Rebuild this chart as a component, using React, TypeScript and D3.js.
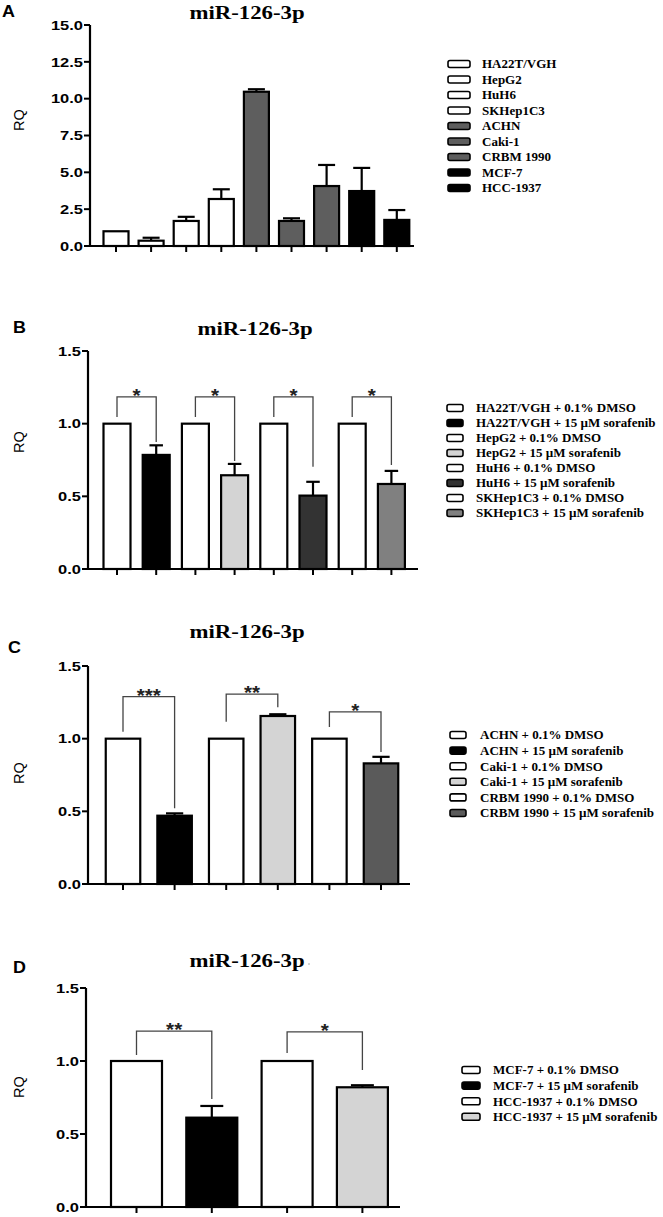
import React from "react";
import * as d3 from "d3";

const W = 663;
const H = 1217;

// ---------------- DATA ----------------
const yTicksA = [0, 2.5, 5, 7.5, 10, 12.5, 15];
const yTicksBCD = [0, 0.5, 1.0, 1.5];

const aCategories = ["HA22T/VGH", "HepG2", "HuH6", "SKHep1C3", "ACHN", "Caki-1", "CRBM 1990", "MCF-7", "HCC-1937"];
const aValues = [1.0, 0.36, 1.7, 3.19, 10.47, 1.7, 4.07, 3.73, 1.77];
const aErrors = [0, 0.2, 0.28, 0.66, 0.17, 0.18, 1.43, 1.57, 0.67];
const aColors = ["#ffffff", "#ffffff", "#ffffff", "#ffffff", "#5e5e5e", "#5e5e5e", "#5e5e5e", "#000000", "#000000"];

const bCategories = [
  "HA22T/VGH + 0.1% DMSO",
  "HA22T/VGH + 15 µM sorafenib",
  "HepG2 + 0.1% DMSO",
  "HepG2 + 15 µM sorafenib",
  "HuH6 + 0.1% DMSO",
  "HuH6 + 15 µM sorafenib",
  "SKHep1C3 + 0.1% DMSO",
  "SKHep1C3 + 15 µM sorafenib",
];
const bValues = [1.0, 0.785, 1.0, 0.645, 1.0, 0.505, 1.0, 0.585];
const bErrors = [0, 0.066, 0, 0.078, 0, 0.095, 0, 0.09];
const bColors = ["#ffffff", "#000000", "#ffffff", "#d4d4d4", "#ffffff", "#333333", "#ffffff", "#808080"];
const bBrackets = [
  { from: 0, to: 1, top: 1.184, left: 1.046, right: 0.874, label: "*" },
  { from: 2, to: 3, top: 1.184, left: 1.046, right: 0.743, label: "*" },
  { from: 4, to: 5, top: 1.184, left: 1.046, right: 0.704, label: "*" },
  { from: 6, to: 7, top: 1.184, left: 1.046, right: 0.716, label: "*" },
];

const cCategories = [
  "ACHN + 0.1% DMSO",
  "ACHN + 15 µM sorafenib",
  "Caki-1 + 0.1% DMSO",
  "Caki-1 + 15 µM sorafenib",
  "CRBM 1990 + 0.1% DMSO",
  "CRBM 1990 + 15 µM sorafenib",
];
const cValues = [1.0, 0.47, 1.0, 1.156, 1.0, 0.83];
const cErrors = [0, 0.016, 0, 0.012, 0, 0.045];
const cColors = ["#ffffff", "#000000", "#ffffff", "#d4d4d4", "#ffffff", "#5a5a5a"];
const cBrackets = [
  { from: 0, to: 1, top: 1.289, left: 1.048, right: 0.521, label: "***" },
  { from: 2, to: 3, top: 1.307, left: 1.117, right: 1.216, label: "**" },
  { from: 4, to: 5, top: 1.184, left: 1.08, right: 0.908, label: "*" },
];

const dCategories = [
  "MCF-7 + 0.1% DMSO",
  "MCF-7 + 15 µM sorafenib",
  "HCC-1937 + 0.1% DMSO",
  "HCC-1937 + 15 µM sorafenib",
];
const dValues = [1.0, 0.612, 1.0, 0.82];
const dErrors = [0, 0.08, 0, 0.014];
const dColors = ["#ffffff", "#000000", "#ffffff", "#d4d4d4"];
const dBrackets = [
  { from: 0, to: 1, top: 1.205, left: 1.041, right: 0.74, label: "**" },
  { from: 2, to: 3, top: 1.199, left: 1.055, right: 0.938, label: "*" },
];

const titleText = "miR-126-3p";

// ---------------- LAYOUT ----------------
type Bracket = { from: number; to: number; top: number; left: number; right: number; label: string };

interface PanelProps {
  letter: string;
  letterPos: [number, number];
  titlePos: [number, number];
  titleDash?: boolean;
  rqY: number;
  axisX: number;
  y0: number;
  yTop: number;
  yMax: number;
  ticks: number[];
  categories: string[];
  values: number[];
  errors: number[];
  colors: string[];
  brackets: Bracket[];
  firstCenter: number;
  step: number;
  barWidth: number;
  capFrac: number;
  axisEnd: number;
  legendSwatchX: number;
  legendSwatchW: number;
  legendTextX: number;
  legendY0: number;
  legendDy: number;
}

const SANS = "'Liberation Sans', Arial, sans-serif";
const SERIF = "'Liberation Serif', 'Times New Roman', serif";

function SText(props: {
  x: number; y: number; sx?: number; size: number; family: string; weight?: string | number;
  anchor?: string; fill?: string; children: React.ReactNode; rotate?: number;
}) {
  const { x, y, sx = 1, size, family, weight = "normal", anchor = "start", fill = "#000", rotate = 0 } = props;
  return (
    <text
      transform={`translate(${x},${y}) rotate(${rotate}) scale(${sx},1)`}
      fontSize={size}
      fontFamily={family}
      fontWeight={weight}
      textAnchor={anchor}
      fill={fill}
    >
      {props.children}
    </text>
  );
}

function Panel(p: PanelProps) {
  const y = d3.scaleLinear().domain([0, p.yMax]).range([p.y0, p.yTop]);
  const x = d3
    .scalePoint<string>()
    .domain(p.categories)
    .range([p.firstCenter, p.firstCenter + p.step * (p.categories.length - 1)]);
  const fmt = d3.format(".1f");
  const cap = p.barWidth * p.capFrac;

  return (
    <g>
      <SText x={p.letterPos[0]} y={p.letterPos[1]} size={16} sx={1.12} family={SANS} weight="bold">
        {p.letter}
      </SText>
      <SText x={p.titlePos[0]} y={p.titlePos[1]} size={19} sx={1.2} family={SERIF} weight="bold" anchor="middle">
        {titleText}
      </SText>
      {p.titleDash && (
        <line x1={p.titlePos[0] + 61} x2={p.titlePos[0] + 63} y1={p.titlePos[1] - 3} y2={p.titlePos[1] - 3} stroke="#aaa" strokeWidth={1} />
      )}
      <SText x={24} y={p.rqY} size={14.5} family={SANS} anchor="middle" rotate={-90}>
        RQ
      </SText>

      {p.categories.map((c, i) => {
        const cx = x(c)!;
        return (
          <rect
            key={"bar" + i}
            x={cx - p.barWidth / 2}
            y={y(p.values[i])}
            width={p.barWidth}
            height={p.y0 - y(p.values[i])}
            fill={p.colors[i]}
            stroke="#000"
            strokeWidth={2.2}
          />
        );
      })}
      {p.categories.map((c, i) => {
        if (!p.errors[i]) return null;
        const cx = x(c)!;
        const top = y(p.values[i] + p.errors[i]);
        return (
          <g key={"err" + i} stroke="#000" strokeWidth={2.2}>
            <line x1={cx} x2={cx} y1={y(p.values[i])} y2={top} />
            <line x1={cx - cap / 2} x2={cx + cap / 2} y1={top} y2={top} />
          </g>
        );
      })}

      <line x1={p.axisX} x2={p.axisX} y1={p.y0 + 1} y2={y(p.yMax)} stroke="#000" strokeWidth={2.2} />
      {p.ticks.map((t) => (
        <g key={"yt" + t}>
          <line x1={p.axisX - 6} x2={p.axisX} y1={y(t)} y2={y(t)} stroke="#000" strokeWidth={2} />
          <SText x={p.axisX - 7} y={y(t) + 4.8} size={13.5} sx={1.22} family={SANS} weight="bold" anchor="end">
            {fmt(t)}
          </SText>
        </g>
      ))}
      <line x1={p.axisX - 1} x2={p.axisEnd} y1={p.y0} y2={p.y0} stroke="#000" strokeWidth={2.2} />
      {p.categories.map((c, i) => (
        <line key={"xt" + i} x1={x(c)!} x2={x(c)!} y1={p.y0} y2={p.y0 + 6} stroke="#000" strokeWidth={2} />
      ))}

      {p.brackets.map((b, i) => {
        const x1 = x(p.categories[b.from])!;
        const x2 = x(p.categories[b.to])!;
        const path = d3.path();
        path.moveTo(x1, y(b.left));
        path.lineTo(x1, y(b.top));
        path.lineTo(x2, y(b.top));
        path.lineTo(x2, y(b.right));
        return (
          <g key={"br" + i}>
            <path d={path.toString()} fill="none" stroke="#444" strokeWidth={1.3} />
            <SText x={(x1 + x2) / 2} y={y(b.top) + 5} size={18} sx={1.15} family={SANS} weight="bold" anchor="middle" fill="#222">
              {b.label}
            </SText>
          </g>
        );
      })}

      {p.categories.map((c, i) => {
        const ry = p.legendY0 + i * p.legendDy;
        return (
          <g key={"lg" + i}>
            <rect
              x={p.legendSwatchX}
              y={ry - 3.5}
              width={p.legendSwatchW}
              height={7}
              rx={2}
              fill={p.colors[i]}
              stroke="#000"
              strokeWidth={1.6}
            />
            <SText x={p.legendTextX} y={ry + 4.3} size={12.5} sx={1.04} family={SERIF} weight="bold">
              {c}
            </SText>
          </g>
        );
      })}
    </g>
  );
}

export default function App() {
  return (
    <svg
      width={W}
      height={H}
      viewBox={`0 0 ${W} ${H}`}
      style={{ position: "absolute", left: 0, top: 0, background: "#fff" }}
    >
      <rect x={0} y={0} width={W} height={H} fill="#fff" />
      <Panel
        letter="A"
        letterPos={[2, 17]}
        titlePos={[247, 19]}
        rqY={120}
        axisX={90}
        y0={246}
        yTop={25}
        yMax={15}
        ticks={yTicksA}
        categories={aCategories}
        values={aValues}
        errors={aErrors}
        colors={aColors}
        brackets={[]}
        firstCenter={116}
        step={35.1}
        barWidth={25}
        capFrac={0.68}
        axisEnd={414}
        legendSwatchX={448}
        legendSwatchW={22}
        legendTextX={482}
        legendY0={64}
        legendDy={15.5}
      />
      <Panel
        letter="B"
        letterPos={[13, 333]}
        titlePos={[255, 335]}
        rqY={442}
        axisX={88}
        y0={569}
        yTop={351}
        yMax={1.5}
        ticks={yTicksBCD}
        categories={bCategories}
        values={bValues}
        errors={bErrors}
        colors={bColors}
        brackets={bBrackets}
        firstCenter={117}
        step={39.2}
        barWidth={27}
        capFrac={0.5}
        axisEnd={418}
        legendSwatchX={447}
        legendSwatchW={16}
        legendTextX={476}
        legendY0={408}
        legendDy={15}
      />
      <Panel
        letter="C"
        letterPos={[8, 653]}
        titlePos={[247, 638]}
        rqY={773}
        axisX={88}
        y0={884}
        yTop={666}
        yMax={1.5}
        ticks={yTicksBCD}
        categories={cCategories}
        values={cValues}
        errors={cErrors}
        colors={cColors}
        brackets={cBrackets}
        firstCenter={123}
        step={51.6}
        barWidth={34.5}
        capFrac={0.5}
        axisEnd={410}
        legendSwatchX={450}
        legendSwatchW={16}
        legendTextX={480}
        legendY0={735}
        legendDy={15.6}
      />
      <Panel
        letter="D"
        letterPos={[13, 973]}
        titlePos={[247, 967]}
        titleDash
        rqY={1087}
        axisX={86}
        y0={1207}
        yTop={988}
        yMax={1.5}
        ticks={yTicksBCD}
        categories={dCategories}
        values={dValues}
        errors={dErrors}
        colors={dColors}
        brackets={dBrackets}
        firstCenter={136.5}
        step={75.3}
        barWidth={51}
        capFrac={0.45}
        axisEnd={400}
        legendSwatchX={462}
        legendSwatchW={18}
        legendTextX={493}
        legendY0={1070}
        legendDy={15.6}
      />
    </svg>
  );
}
